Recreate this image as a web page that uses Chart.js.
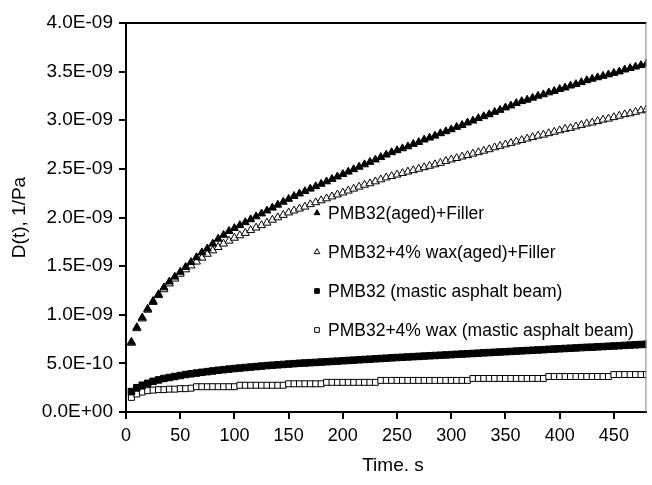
<!DOCTYPE html>
<html>
<head>
<meta charset="utf-8">
<script src="https://cdn.jsdelivr.net/npm/chart.js@4.4.0/dist/chart.umd.min.js"></script>
<style>
  body { margin: 0; background: #fff; }
  #wrap { width: 652px; height: 485px; position: relative; }
</style>
</head>
<body>
<div id="wrap"><canvas id="myChart"></canvas></div>
<script>
// time, s
const times = [5,10,15,20,25,30,35,40,45,50,
  55,60,65,70,75,80,85,90,95,100,
  105,110,115,120,125,130,135,140,145,150,
  155,160,165,170,175,180,185,190,195,200,
  205,210,215,220,225,230,235,240,245,250,
  255,260,265,270,275,280,285,290,295,300,
  305,310,315,320,325,330,335,340,345,350,
  355,360,365,370,375,380,385,390,395,400,
  405,410,415,420,425,430,435,440,445,450,
  455,460,465,470,475,480];

// D(t) values in units of 1E-09 1/Pa
const agedFiller = [0.72,0.87,0.97,1.06,1.14,1.21,1.28,1.34,1.39,1.44,
  1.49,1.54,1.59,1.64,1.68,1.73,1.78,1.82,1.86,1.89,
  1.92,1.95,1.98,2.01,2.04,2.07,2.10,2.13,2.16,2.19,
  2.22,2.245,2.27,2.295,2.32,2.345,2.37,2.395,2.42,2.445,
  2.47,2.495,2.52,2.545,2.57,2.595,2.62,2.645,2.67,2.69,
  2.71,2.73,2.755,2.775,2.80,2.82,2.84,2.865,2.885,2.905,
  2.93,2.95,2.975,2.995,3.02,3.04,3.06,3.085,3.105,3.13,
  3.15,3.175,3.195,3.21,3.23,3.25,3.265,3.285,3.30,3.32,
  3.335,3.355,3.37,3.39,3.41,3.425,3.44,3.455,3.47,3.485,
  3.50,3.52,3.535,3.55,3.565,3.58];

const waxAgedFiller = [0.71,0.86,0.96,1.05,1.13,1.20,1.26,1.32,1.37,1.42,
  1.465,1.505,1.545,1.585,1.625,1.66,1.695,1.73,1.76,1.79,
  1.815,1.84,1.87,1.895,1.92,1.945,1.975,2.00,2.025,2.05,
  2.07,2.09,2.11,2.135,2.155,2.175,2.195,2.215,2.235,2.255,
  2.275,2.295,2.315,2.335,2.35,2.37,2.39,2.41,2.425,2.44,
  2.455,2.47,2.485,2.50,2.515,2.53,2.545,2.56,2.58,2.595,
  2.61,2.625,2.64,2.655,2.67,2.685,2.70,2.72,2.735,2.75,
  2.765,2.78,2.795,2.81,2.825,2.84,2.85,2.865,2.88,2.895,
  2.91,2.92,2.935,2.95,2.965,2.975,2.99,3.005,3.015,3.03,
  3.045,3.06,3.07,3.085,3.10,3.11];

const masticBeam = [0.21,0.25,0.275,0.295,0.315,0.33,0.345,0.355,0.365,0.375,
  0.385,0.393,0.40,0.408,0.415,0.422,0.429,0.435,0.441,0.447,
  0.452,0.457,0.462,0.467,0.472,0.477,0.481,0.485,0.489,0.493,
  0.497,0.501,0.504,0.507,0.51,0.513,0.517,0.52,0.523,0.527,
  0.53,0.533,0.537,0.54,0.543,0.547,0.55,0.553,0.557,0.56,
  0.563,0.566,0.569,0.572,0.575,0.578,0.581,0.584,0.587,0.59,
  0.593,0.596,0.599,0.602,0.605,0.608,0.611,0.614,0.617,0.62,
  0.623,0.626,0.629,0.632,0.635,0.638,0.641,0.644,0.647,0.65,
  0.653,0.656,0.659,0.662,0.665,0.667,0.67,0.673,0.676,0.679,
  0.682,0.685,0.688,0.691,0.694,0.697];

const waxMasticBeam = [0.15,0.185,0.205,0.22,0.225,0.23,0.23,0.235,0.235,0.24,
  0.24,0.245,0.26,0.26,0.26,0.26,0.26,0.26,0.26,0.26,
  0.275,0.275,0.275,0.275,0.275,0.275,0.275,0.275,0.275,0.29,
  0.29,0.29,0.29,0.29,0.29,0.29,0.305,0.305,0.305,0.305,
  0.305,0.305,0.305,0.305,0.305,0.305,0.325,0.325,0.325,0.325,
  0.325,0.325,0.325,0.325,0.325,0.325,0.325,0.325,0.325,0.325,
  0.325,0.325,0.325,0.345,0.345,0.345,0.345,0.345,0.345,0.345,
  0.345,0.345,0.345,0.345,0.345,0.345,0.345,0.365,0.365,0.365,
  0.365,0.365,0.365,0.365,0.365,0.365,0.365,0.365,0.365,0.385,
  0.385,0.385,0.385,0.385,0.385,0.385];

const seriesNames = [
  "PMB32(aged)+Filler",
  "PMB32+4% wax(aged)+Filler",
  "PMB32 (mastic asphalt beam)",
  "PMB32+4% wax (mastic asphalt beam)"
];

const FONT = "'Liberation Sans', Arial, sans-serif";

function toPoints(arr){
  return times.map((t, i) => ({ x: t, y: arr[i] }));
}

// 4.0E-09 style labels
function sciLabel(v){
  if (Math.abs(v) < 1e-9) return "0.0E+00";
  let real = v * 1e-9;
  let exp = Math.floor(Math.log10(real) + 1e-9);
  let mant = real / Math.pow(10, exp);
  let sign = exp < 0 ? "-" : "+";
  return mant.toFixed(1) + "E" + sign + String(Math.abs(exp)).padStart(2, "0");
}

// top + right frame lines, x title, legend inside the plot
const extrasPlugin = {
  id: "extras",
  afterDraw(chart){
    const ctx = chart.ctx;
    const a = chart.chartArea;
    ctx.save();
    ctx.strokeStyle = "#000";
    ctx.lineWidth = 2;
    ctx.beginPath();
    ctx.moveTo(a.left, a.top);
    ctx.lineTo(a.right, a.top);
    ctx.stroke();
    ctx.strokeStyle = "#808080";
    ctx.lineWidth = 1;
    ctx.beginPath();
    ctx.moveTo(a.right - 0.5, a.top);
    ctx.lineTo(a.right - 0.5, a.bottom);
    ctx.stroke();

    ctx.fillStyle = "#000";
    ctx.font = "19px " + FONT;
    ctx.textAlign = "center";
    ctx.textBaseline = "middle";
    ctx.fillText("Time. s", 393, 466);

    // legend
    ctx.font = "17.5px " + FONT;
    ctx.textAlign = "left";
    chart.data.datasets.forEach((ds, i) => {
      let y = 213 + i * 39;
      ctx.fillStyle = ds.backgroundColor;
      ctx.strokeStyle = ds.borderColor;
      ctx.lineWidth = 1;
      Chart.helpers.drawPoint(ctx, { pointStyle: ds.pointStyle, radius: 3.3, borderWidth: 1 }, 317, y);
      ctx.fillStyle = "#000";
      ctx.fillText(ds.label, 328, y + 1);
    });
    ctx.restore();
  }
};

const ctx = document.getElementById("myChart").getContext("2d");
const myChart = new Chart(ctx, {
  type: "scatter",
  data: {
    datasets: [
      { label: seriesNames[0], data: toPoints(agedFiller), pointStyle: "triangle",
        backgroundColor: "#000", borderColor: "#000", pointRadius: 4.6, order: 0 },
      { label: seriesNames[1], data: toPoints(waxAgedFiller), pointStyle: "triangle",
        backgroundColor: "#fff", borderColor: "#000", pointRadius: 4.6, order: 1 },
      { label: seriesNames[2], data: toPoints(masticBeam), pointStyle: "rect",
        backgroundColor: "#000", borderColor: "#000", pointRadius: 4.6, order: 2 },
      { label: seriesNames[3], data: toPoints(waxMasticBeam), pointStyle: "rect",
        backgroundColor: "#fff", borderColor: "#000", pointRadius: 4.2, order: 3 }
    ]
  },
  options: {
    responsive: true,
    maintainAspectRatio: false,
    animation: false,
    layout: { padding: { left: 0, right: 1, top: 23, bottom: 0 } },
    elements: { point: { borderWidth: 1 } },
    plugins: {
      legend: { display: false },
      tooltip: { enabled: false }
    },
    scales: {
      x: {
        type: "linear",
        min: 0,
        max: 480,
        afterFit: (scale) => { scale.height = 73; },
        border: { color: "#000", width: 2 },
        grid: { drawOnChartArea: false, drawTicks: true, tickLength: 7, color: "#000", lineWidth: 2 },
        ticks: { stepSize: 50, includeBounds: false, color: "#000", padding: 6,
          font: { family: FONT, size: 18 }, maxRotation: 0 }
      },
      y: {
        min: 0,
        max: 4,
        afterFit: (scale) => { scale.width = 126; },
        border: { color: "#000", width: 2 },
        grid: { drawOnChartArea: false, drawTicks: true, tickLength: 7, color: "#000", lineWidth: 2 },
        ticks: { stepSize: 0.5, color: "#000", padding: 6,
          font: { family: FONT, size: 19 }, callback: (v) => sciLabel(v) },
        title: { display: true, text: "D(t), 1/Pa", color: "#000",
          font: { family: FONT, size: 19 }, padding: { top: 8, bottom: 0 } }
      }
    }
  },
  plugins: [extrasPlugin]
});
</script>
</body>
</html>
